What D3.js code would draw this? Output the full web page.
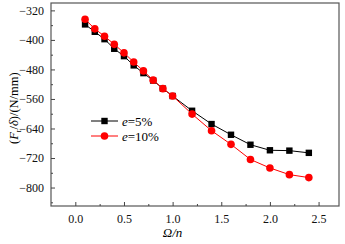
<!DOCTYPE html>
<html>
<head>
<meta charset="utf-8">
<script src="https://cdn.jsdelivr.net/npm/d3@7"></script>
<style>
  body { margin: 0; background: #fff; }
  text { font-family: "Liberation Serif", "Times New Roman", serif; }
</style>
</head>
<body>
<div id="chart"></div>
<script>
// data
const ratios = [0.1, 0.2, 0.3, 0.4, 0.5, 0.6, 0.7, 0.8, 0.9, 1.0, 1.2, 1.4, 1.6, 1.8, 2.0, 2.2, 2.4];
const e5 = [-358, -378, -398, -424, -444, -469, -490, -510, -532, -552, -592, -628, -657, -684, -699, -700, -706];
const e10 = [-344, -370, -390, -412, -435, -460, -484, -509, -532, -552, -601, -646, -683, -724, -747, -765, -773];
const xTicks = [0.0, 0.5, 1.0, 1.5, 2.0, 2.5];
const yTicks = [-320, -400, -480, -560, -640, -720, -800];

const width = 345, height = 244;
const margin = {top: 3, right: 6, bottom: 38, left: 51};

let svg = d3.select("#chart").append("svg")
    .attr("width", width)
    .attr("height", height);

let x = d3.scaleLinear()
    .domain([-0.25, 2.71])
    .range([margin.left, width - margin.right]);

let y = d3.scaleLinear()
    .domain([-850, -300])
    .range([height - margin.bottom, margin.top]);

// frame
svg.append("rect")
    .attr("x", margin.left)
    .attr("y", margin.top)
    .attr("width", width - margin.right - margin.left)
    .attr("height", height - margin.bottom - margin.top)
    .attr("fill", "none")
    .attr("stroke", "#555")
    .attr("stroke-width", 1.2);

// x axis (ticks inside)
let xAxis = d3.axisBottom(x)
    .tickValues(xTicks)
    .tickFormat(d3.format(".1f"))
    .tickSize(-4)
    .tickPadding(8);

let gx = svg.append("g")
    .attr("transform", `translate(0,${height - margin.bottom})`)
    .call(xAxis);
gx.select(".domain").remove();

svg.append("g")
    .attr("transform", `translate(0,${height - margin.bottom})`)
    .call(d3.axisBottom(x).tickValues([0.25, 0.75, 1.25, 1.75, 2.25]).tickFormat("").tickSize(-2))
    .select(".domain").remove();

// y axis (ticks inside)
let gy = svg.append("g")
    .attr("transform", `translate(${margin.left},0)`)
    .call(d3.axisLeft(y).tickValues(yTicks).tickSize(-4).tickPadding(7));
gy.select(".domain").remove();

svg.append("g")
    .attr("transform", `translate(${margin.left},0)`)
    .call(d3.axisLeft(y).tickValues([-840, -760, -680, -600, -520, -440, -360]).tickFormat("").tickSize(-2))
    .select(".domain").remove();

svg.selectAll(".tick line").attr("stroke", "#444");
svg.selectAll(".tick text")
    .attr("font-size", 12)
    .attr("fill", "#111");

// axis titles
svg.append("text")
    .attr("x", x(1.0))
    .attr("y", 237)
    .attr("text-anchor", "middle")
    .attr("font-size", 13)
    .attr("font-style", "italic")
    .text("Ω/n");

let yl = svg.append("text")
    .attr("transform", `translate(18,${y(-585)}) rotate(-90)`)
    .attr("text-anchor", "middle")
    .attr("font-size", 12.5);
yl.append("tspan").text("(");
yl.append("tspan").attr("font-style", "italic").text("F");
yl.append("tspan").attr("font-size", 8).attr("dy", 3).text("r");
yl.append("tspan").attr("dy", -3).text("/");
yl.append("tspan").attr("font-style", "italic").text("δ");
yl.append("tspan").text(")/(N/mm)");

// series
const series = [
    {name: "5%", values: e5, color: "#000", shape: "square"},
    {name: "10%", values: e10, color: "#f00", shape: "circle"}
];

let line = d3.line()
    .x((d, i) => x(ratios[i]))
    .y(d => y(d));

series.forEach(s => {
    svg.append("path")
        .datum(s.values)
        .attr("d", line)
        .attr("fill", "none")
        .attr("stroke", s.color)
        .attr("stroke-width", 1);

    if (s.shape === "square") {
        svg.selectAll(null)
            .data(s.values)
            .enter().append("rect")
            .attr("x", (d, i) => x(ratios[i]) - 3.2)
            .attr("y", d => y(d) - 3.2)
            .attr("width", 6.4)
            .attr("height", 6.4)
            .attr("fill", s.color);
    } else {
        svg.selectAll(null)
            .data(s.values)
            .enter().append("circle")
            .attr("cx", (d, i) => x(ratios[i]))
            .attr("cy", d => y(d))
            .attr("r", 3.8)
            .attr("fill", s.color);
    }
});

// legend
series.forEach((s, i) => {
    let ly = 121 + i * 15;
    svg.append("line")
        .attr("x1", 91).attr("x2", 118)
        .attr("y1", ly).attr("y2", ly)
        .attr("stroke", s.color)
        .attr("stroke-width", 1);
    if (s.shape === "square") {
        svg.append("rect")
            .attr("x", 104.5 - 3.2).attr("y", ly - 3.2)
            .attr("width", 6.4).attr("height", 6.4)
            .attr("fill", s.color);
    } else {
        svg.append("circle")
            .attr("cx", 104.5).attr("cy", ly)
            .attr("r", 3.8)
            .attr("fill", s.color);
    }
    let t = svg.append("text")
        .attr("x", 122)
        .attr("y", ly + 4.5)
        .attr("font-size", 13);
    t.append("tspan").attr("font-style", "italic").text("e");
    t.append("tspan").text("=" + s.name);
});
</script>
</body>
</html>
